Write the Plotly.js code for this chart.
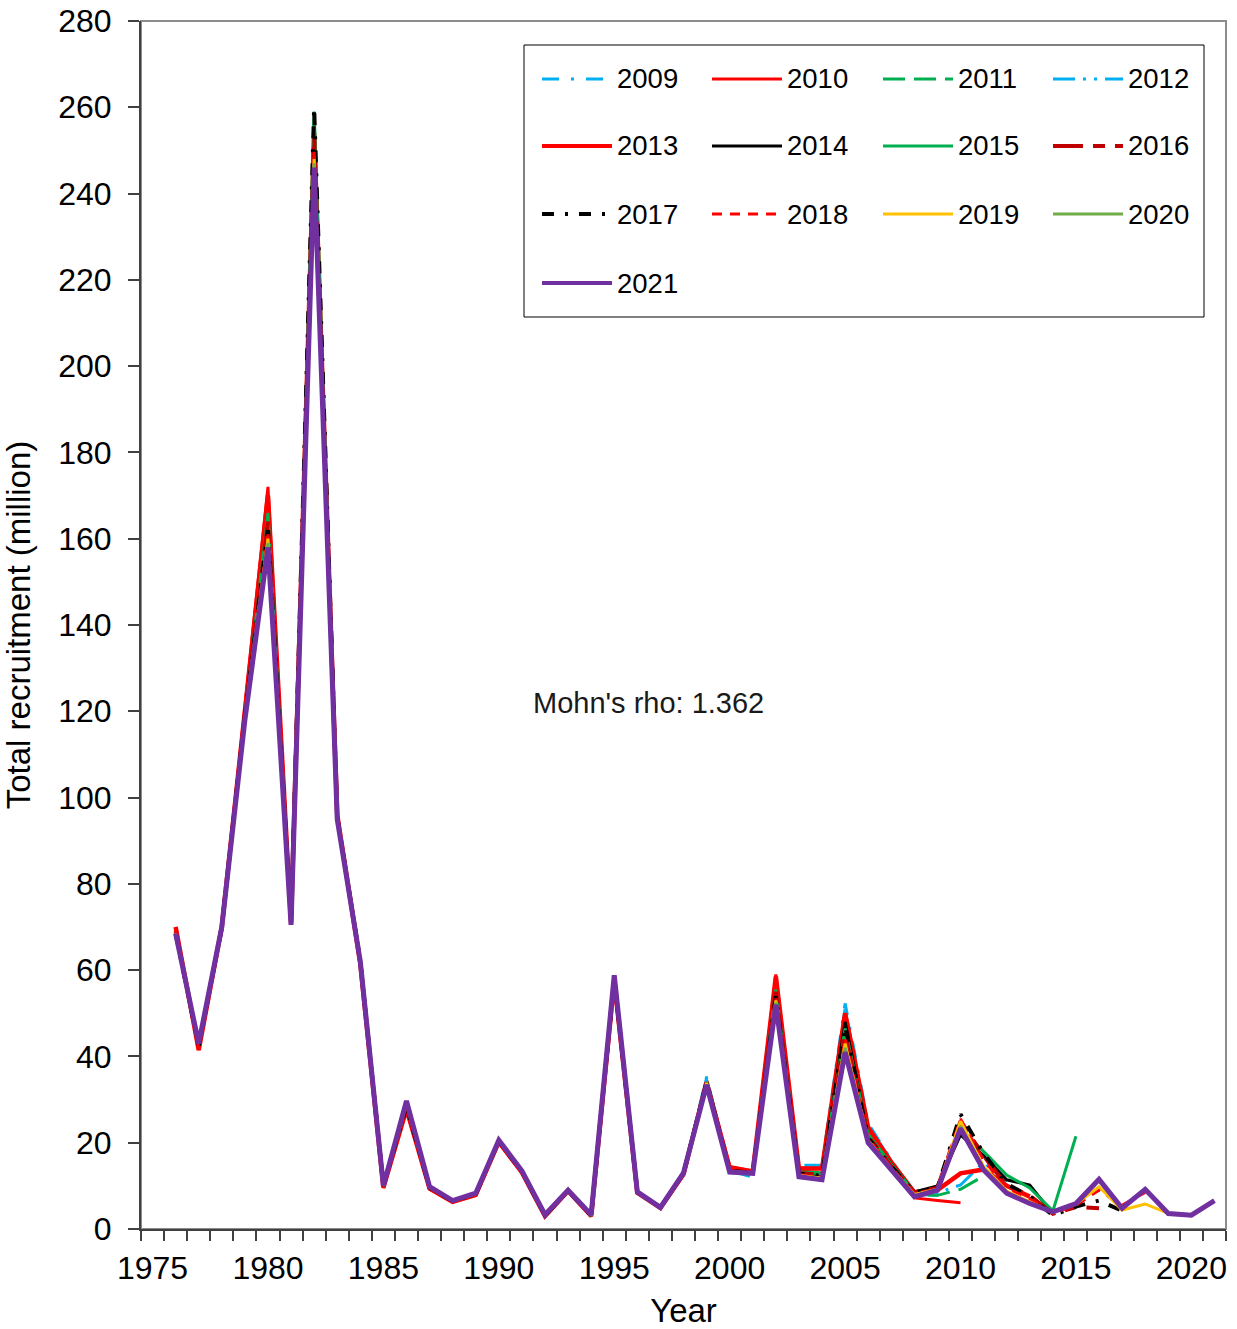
<!DOCTYPE html>
<html><head><meta charset="utf-8">
<script src="https://cdn.plot.ly/plotly-3.0.1.min.js"></script>
<style>html,body{margin:0;padding:0;background:#fff}</style>
</head><body><div id="chart" style="width:1237px;height:1329px"></div>
<script>
// Years of the recruitment estimates (x categories)
const years = [1976,1977,1978,1979,1980,1981,1982,1983,1984,1985,1986,1987,1988,1989,1990,
  1991,1992,1993,1994,1995,1996,1997,1998,1999,2000,2001,2002,2003,2004,2005,2006,2007,2008,
  2009,2010,2011,2012,2013,2014,2015,2016,2017,2018,2019,2020,2021];

// Retrospective runs: total recruitment (million), starting 1976, ending at the run year
const run2009 = [69,42.5,69,119,165,72,250,96,62,10,28,9.5,6.4,8,20.5,13,3,9,3,57,8.5,5,13,35.3,13.5,12,56,14.8,14.8,52.3,24.5,16,8,7.8];
const run2010 = [70,41.5,70,121,172,71,255,96,61,9.5,27.6,9.3,6.2,7.8,20,13,2.9,8.8,2.9,57.5,8.3,4.8,12.6,34.5,14.5,13.5,59,14.1,14.2,50.5,23.7,15.5,7.2,6.6,6.1];
const run2011 = [69,42,70,120,167,71,258,96,62,10,28.5,9.6,6.5,8.1,20.4,13.3,3.1,8.9,3.1,58,8.5,5,12.9,34.5,13.8,13,56,13.5,13,47,22.5,15,8,7.8,9.2,12.3];
const run2012 = [69,42.5,69.5,119,165,71,250,96,62,10,28.5,9.6,6.5,8.1,20.5,13.3,3.1,8.9,3.1,58,8.5,5,13,35,13.6,12.3,56,14.5,14.5,51,24,15.8,8.2,8.4,10.2,15.5,11];
const run2013 = [70,41.5,70,121,170,71,254,96,61.5,9.6,27.8,9.4,6.3,7.9,20.2,13.1,3,8.8,3,57.5,8.4,4.9,12.7,34,14.2,13.3,58.5,14,14,50,23.5,15.5,8.5,9,12.9,13.8,10,7.5];
const run2014 = [68.5,42.5,70,119,163,71,252,95.5,62,10,28.5,9.6,6.5,8.1,20.4,13.3,3.1,8.9,3.1,58,8.5,5,12.9,34,13.5,13,54.5,13,12.5,48,21.5,15,8.6,10,21.8,17,11.4,10.2,3.5];
const run2015 = [68.5,42.5,70,119,166,71,259,96,62,10,28.5,9.6,6.5,8.1,20.4,13.3,3.1,8.9,3.1,58,8.5,5,12.9,34,13.5,13,55.5,13.2,12.8,46.5,22,15,8.6,9.5,23,18,12.5,9.5,4.2,21.5];
const run2016 = [69,42,70,119,164,71,253,95.5,62,10,28.5,9.6,6.5,8.1,20.4,13.3,3.1,8.9,3.1,58,8.5,5,12.9,34,13.5,13,55,13,12.5,45,21.5,14.5,8.5,9.5,25,17,10,7.8,3.5,5.1,4.8];
const run2017 = [68.5,42.5,70,119,162,71,260,95.5,62,10,28.5,9.6,6.5,8.1,20.4,13.3,3.1,8.9,3.1,58,8.5,5,12.9,34,13.5,13,54,12.8,12.3,47,21,14.5,8.5,9.5,26.6,17.5,10.5,7.5,3.2,5.2,6.6,4.2];
const run2018 = [69,42,70,119,161,71,250,95.5,62,10,28.5,9.6,6.5,8.1,20.4,13.3,3.1,8.9,3.1,58,8.5,5,12.9,34,13.5,13,53.5,12.6,12,44,21,14.3,8.3,9.3,25.5,16,9.5,7,3.6,5.5,9,5.5,8.5];
const run2019 = [68.5,43,70,118.5,160,70.5,248,95,62,10,29,9.7,6.5,8.2,20.5,13.4,3.2,9,3.2,58.5,8.5,5,13,33.8,13.4,13,53,12.4,11.8,43,20.5,14,8,9.2,25,14.5,8.8,6.3,3.8,5.8,9.8,4.4,5.8,3.6];
const run2020 = [68.5,43,70,118,159,70.5,247,95,62,10,29.5,9.8,6.6,8.3,20.6,13.5,3.3,9,3.3,58.7,8.6,5,13,33.5,13.3,12.9,52.5,12.2,11.6,42,20.2,13.8,7.7,9,23.8,14,8.5,6,4,5.9,11.2,4.9,9,3.6,3.3];
const run2021 = [68.5,43,70,118,158,70.5,246,95,62,10,29.7,9.8,6.6,8.3,20.6,13.5,3.3,9,3.3,58.8,8.6,5,13,33.4,13.2,12.9,52,12.1,11.4,41,20,13.7,7.5,9,23.3,13.7,8.3,5.9,4,5.9,11.5,4.8,9.2,3.6,3.2,6.6];

const runNames = ['2009','2010','2011','2012','2013','2014','2015','2016','2017','2018','2019','2020','2021'];
const runValues = [run2009,run2010,run2011,run2012,run2013,run2014,run2015,run2016,run2017,run2018,run2019,run2020,run2021];
const runColors = ['#00B0F0','#FF0000','#00B050','#00B0F0','#FF0000','#000000','#00B050','#C00000','#000000','#FF0000','#FFC000','#70AD47','#7030A0'];
const runDashes = ['17px,12px,3px,12px','solid','22px,9px','22px,8px,3px,8px,3px,8px','solid','solid','solid','30px,10px,12px,10px','12px,11px,3px,11px','10px,8px','solid','solid','solid'];
const runWidths = [3,3,3,3,4.5,3,3,4,4,3,3,3,5];

const xTickVals = [1975,1980,1985,1990,1995,2000,2005,2010,2015,2020];
const yTickVals = [0,20,40,60,80,100,120,140,160,180,200,220,240,260,280];

const traces = runValues.map((vals, i) => ({
  type: 'scatter', mode: 'lines', name: runNames[i],
  x: years.slice(0, vals.length), y: vals,
  line: {color: runColors[i], dash: runDashes[i], width: runWidths[i]},
  showlegend: false, hoverinfo: 'x+y+name'
}));

// geometry of the plot area (px) for the hand-drawn legend
const W = 1237, H = 1329, mL = 141, mR = 11, mT = 21, mB = 100;
const pw = W - mL - mR, ph = H - mT - mB;
const px = v => (v - mL) / pw;
const py = v => (H - mB - v) / ph;

const shapes = [
  {type: 'rect', xref: 'paper', yref: 'paper', x0: 0, x1: 1, y0: 0, y1: 1,
   line: {color: '#8c8c8c', width: 2}, layer: 'below'},
  {type: 'rect', xref: 'paper', yref: 'paper', x0: px(524), x1: px(1204), y0: py(317), y1: py(45),
   line: {color: '#000000', width: 1}, fillcolor: '#ffffff', layer: 'above'}
];
const annotations = [
  {xref: 'x', yref: 'y', x: 1996.5, y: 122, text: "Mohn's rho: 1.362", showarrow: false,
   font: {family: 'Liberation Sans, Arial, sans-serif', size: 29, color: '#1a1a1a'}}
];
const colX = [542, 712, 883, 1053];
const rowY = [79, 146, 214, 283];
runNames.forEach((nm, i) => {
  const c = i % 4, r = Math.floor(i / 4);
  shapes.push({type: 'line', xref: 'paper', yref: 'paper', layer: 'above',
    x0: px(colX[c]), x1: px(colX[c] + 70), y0: py(rowY[r]), y1: py(rowY[r]),
    line: {color: runColors[i], dash: runDashes[i], width: Math.min(runWidths[i], 4)}});
  annotations.push({xref: 'paper', yref: 'paper', x: px(colX[c] + 73), y: py(rowY[r]),
    xanchor: 'left', yanchor: 'middle', showarrow: false, text: nm,
    font: {family: 'Liberation Sans, Arial, sans-serif', size: 27.5, color: '#000000'}});
});

const layout = {
  width: W, height: H,
  margin: {l: mL, r: mR, t: mT, b: mB, pad: 0},
  paper_bgcolor: '#ffffff', plot_bgcolor: '#ffffff',
  font: {family: 'Liberation Sans, Arial, sans-serif', size: 32, color: '#000000'},
  xaxis: {
    range: [1974.5, 2021.5], tickmode: 'array', tickvals: xTickVals, ticktext: xTickVals.map(String),
    ticks: '', showgrid: false, zeroline: false, ticklabelstandoff: 10,
    showline: true, linecolor: '#404040', linewidth: 2,
    minor: {ticks: 'outside', tick0: 1974.5, dtick: 1, ticklen: 10, tickwidth: 2, tickcolor: '#404040', showgrid: false},
    tickfont: {size: 32},
    title: {text: 'Year', font: {size: 33}, standoff: 15}
  },
  yaxis: {
    range: [0, 280], tickmode: 'array', tickvals: yTickVals,
    ticks: 'outside', ticklen: 11, tickwidth: 2, tickcolor: '#404040',
    showgrid: false, zeroline: false, ticklabelstandoff: 10,
    showline: true, linecolor: '#404040', linewidth: 2,
    tickfont: {size: 32},
    title: {text: 'Total recruitment (million)', font: {size: 33}, standoff: 18}
  },
  shapes: shapes,
  annotations: annotations,
  showlegend: false
};

Plotly.newPlot('chart', traces, layout, {displayModeBar: false, responsive: false});
</script>
</body></html>
